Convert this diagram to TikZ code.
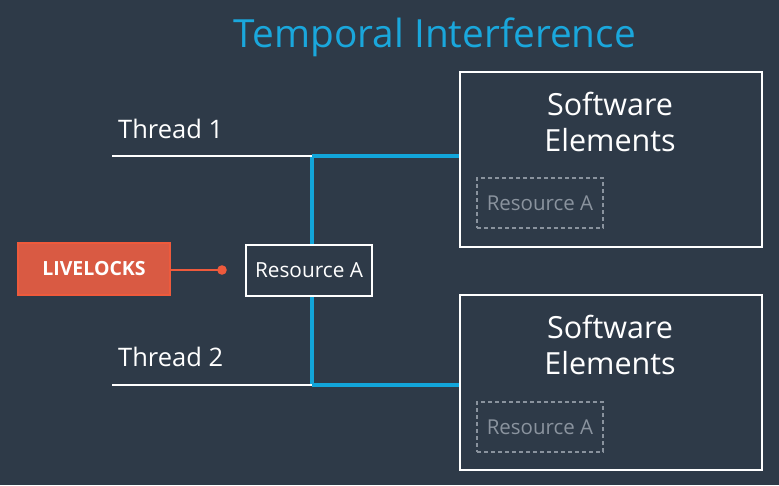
\documentclass[tikz,border=0pt]{standalone}
\usepackage{fontspec}
\setmainfont{Open Sans}
\definecolor{bg}{HTML}{2E3A48}
\definecolor{cyanT}{HTML}{1AA7DC}
\definecolor{lineB}{HTML}{12A5DA}
\definecolor{live}{HTML}{D95A43}
\definecolor{liveB}{HTML}{EE5A3C}
\definecolor{grayD}{HTML}{8A939E}
\begin{document}
\begin{tikzpicture}[x=1pt,y=-1pt,
  wbox/.style={draw=white,line width=2.2pt,inner sep=0pt},
  dbox/.style={draw=grayD,line width=2.2pt,dash pattern=on 4pt off 3pt,inner sep=0pt,text=grayD,font=\fontsize{20.5}{22}\selectfont},
  lbl/.style={text=white,inner sep=0pt},
  wline/.style={white,line width=2.4pt},
  bline/.style={lineB,line width=3.6pt}]
\fill[bg] (0,0) rectangle (779,485);
\useasboundingbox (0,0) rectangle (779,485);
\node[text=cyanT,font=\fontsize{38.8}{42}\selectfont] (title) at (435,37) {Temporal Interference};
% software boxes
\node[wbox,minimum width=302pt,minimum height=175pt] (sw1) at (611,159.5) {};
\node[wbox,minimum width=302pt,minimum height=175pt] (sw2) at (611,382.5) {};
\node[lbl,font=\fontsize{30.5}{36}\selectfont,align=center] (sw1t) at (610,122) {Software\\Elements};
\node[lbl,font=\fontsize{30.5}{36}\selectfont,align=center] (sw2t) at (610,345) {Software\\Elements};
\node[dbox,minimum width=126pt,minimum height=50pt] (ra1) at (540,203) {Resource A};
\node[dbox,minimum width=126pt,minimum height=50pt] (ra2) at (540,427) {Resource A};
% threads
\coordinate (t1s) at (112,156);
\coordinate (t1e) at (312,156);
\coordinate (t2s) at (112,385);
\coordinate (t2e) at (312,385);
\node[lbl,font=\fontsize{25.5}{28}\selectfont,anchor=west] (th1) at (118,129) {Thread 1};
\node[lbl,font=\fontsize{25.5}{28}\selectfont,anchor=west] (th2) at (118,357) {Thread 2};
\draw[bline] (t1e) -- (t2e);
\draw[bline] (t1e) -- (sw1.west |- t1e);
\draw[bline] (t2e) -- (sw2.west |- t2e);
\draw[wline] (t1s) -- (t1e);
\draw[wline] (t2s) -- (t2e);
% resource A
\node[wbox,fill=bg,minimum width=126pt,minimum height=51pt,text=white,font=\fontsize{20.8}{22}\selectfont] (res) at (309,270.5) {Resource A};
% livelocks
\node[draw=liveB,line width=1.5pt,fill=live,minimum width=152pt,minimum height=52pt,text=white,font=\bfseries\fontsize{19.5}{22}\selectfont] (live) at (94,269) {LIVELOCKS};
\coordinate (dot) at (222,270);
\draw[liveB,line width=2.2pt] (live.east |- dot) -- (dot);
\fill[liveB] (dot) circle (4.8pt);
\end{tikzpicture}
\end{document}
